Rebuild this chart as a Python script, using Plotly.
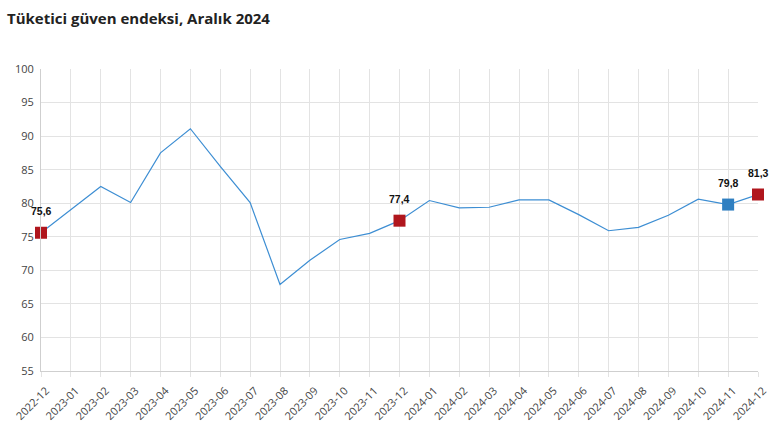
import plotly.graph_objects as go

months = ["2022-12","2023-01","2023-02","2023-03","2023-04","2023-05","2023-06","2023-07",
          "2023-08","2023-09","2023-10","2023-11","2023-12","2024-01","2024-02","2024-03",
          "2024-04","2024-05","2024-06","2024-07","2024-08","2024-09","2024-10","2024-11","2024-12"]
values = [75.6,79.1,82.5,80.1,87.5,91.1,85.5,80.1,67.9,71.5,74.6,75.5,77.4,80.4,79.3,79.4,
          80.5,80.5,78.3,75.9,76.4,78.2,80.6,79.8,81.3]
highlight_months = ["2022-12","2023-12","2024-11","2024-12"]
highlight_colors = ["#b0161d","#b0161d","#2f7fc1","#b0161d"]

idx = {m: i for i, m in enumerate(months)}
hl_x = [idx[m] for m in highlight_months]
hl_y = [values[idx[m]] for m in highlight_months]
hl_text = [f"{v:.1f}".replace(".", ",") for v in hl_y]

fig = go.Figure()
fig.add_trace(go.Scatter(x=list(range(len(months))), y=values, mode="lines",
                         line=dict(color="#3d8ed3", width=1.2), cliponaxis=False, hoverinfo="skip"))
fig.add_trace(go.Scatter(x=hl_x, y=hl_y, mode="markers",
                         marker=dict(symbol="square", size=12, color=highlight_colors,
                                     line=dict(width=0)),
                         cliponaxis=False))
for x, y, t in zip(hl_x, hl_y, hl_text):
    fig.add_annotation(x=x, y=y, text=f"<b>{t}</b>", showarrow=False, yshift=22,
                       font=dict(family="Arial, Liberation Sans", size=10.5, color="#111"))

fig.update_layout(
    width=770, height=431,
    margin=dict(l=41, r=12, t=69, b=60, autoexpand=False),
    paper_bgcolor="white", plot_bgcolor="white",
    showlegend=False,
    title=dict(text="<b>Tüketici güven endeksi, Aralık 2024</b>", x=7/770, xanchor="left",
               y=1 - 19/431, yanchor="middle",
               font=dict(family="Open Sans", size=15, color="#222")),
    font=dict(family="Open Sans", color="#555"),
)
fig.update_xaxes(range=[0, len(months) - 1], tickmode="array", automargin=False,
                 tickvals=list(range(len(months))), ticktext=months, tickangle=-45,
                 tickfont=dict(size=11, color="#444"), showgrid=True, gridcolor="#e3e3e3",
                 gridwidth=1, showline=True, linecolor="#cfcfcf", ticks="outside",
                 ticklen=5, tickcolor="#e3e3e3", zeroline=False,
                 ticklabelshift=5, ticklabelstandoff=3)
fig.update_yaxes(range=[55, 100], dtick=5, tickfont=dict(size=11, color="#444"), automargin=False,
                 showgrid=True, gridcolor="#e3e3e3", gridwidth=1, showline=True,
                 linecolor="#cfcfcf", zeroline=False, ticks="", ticklabelstandoff=4)

fig.write_html("out.html", config={"displayModeBar": False},
               post_script="document.body.style.margin='0';document.body.style.overflow='hidden';")
